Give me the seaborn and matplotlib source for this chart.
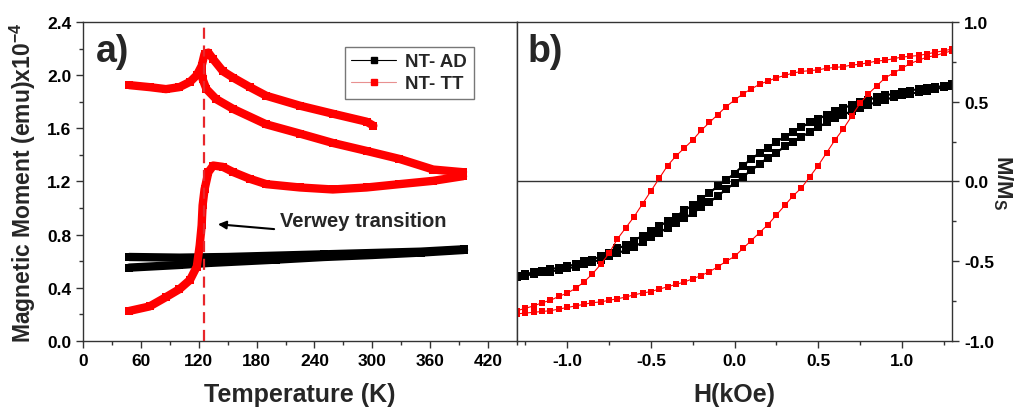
import matplotlib
matplotlib.use("Agg")
import matplotlib.pyplot as plt
import seaborn as sns
import pandas as pd
import numpy as np
from matplotlib.lines import Line2D
from matplotlib.ticker import MultipleLocator, FormatStrFormatter

# ---------------- data: panel a (M vs T) ----------------
ad_upper_T = [48, 100, 150, 200, 250, 300, 350, 395]
ad_upper_M = [0.632, 0.627, 0.632, 0.642, 0.652, 0.662, 0.672, 0.690]
ad_lower_T = [48, 100, 130, 200, 250, 300, 350, 395]
ad_lower_M = [0.552, 0.572, 0.587, 0.612, 0.632, 0.647, 0.665, 0.685]

tt_zfc_T = [48, 69, 86, 100, 111, 118, 121, 123, 124, 126, 130, 135, 145, 156,
            173, 190, 225, 259, 294, 328, 363, 394]
tt_zfc_M = [0.226, 0.26, 0.33, 0.39, 0.46, 0.56, 0.72, 0.87, 1.02, 1.14, 1.27,
            1.32, 1.31, 1.27, 1.22, 1.18, 1.155, 1.14, 1.155, 1.18, 1.205, 1.24]
tt_fc_T = [394, 363, 328, 294, 259, 225, 190, 156, 138, 128, 124, 123]
tt_fc_M = [1.27, 1.29, 1.37, 1.43, 1.49, 1.56, 1.63, 1.745, 1.82, 1.895, 1.97, 2.03]
tt_up_T = [48, 69, 86, 100, 111, 118, 123, 126, 130, 135, 145, 156, 173, 190,
           225, 259, 294, 301]
tt_up_M = [1.925, 1.91, 1.895, 1.91, 1.95, 2.0, 2.07, 2.16, 2.17, 2.12, 2.03,
           1.98, 1.91, 1.845, 1.77, 1.71, 1.65, 1.62]
verwey_T = 125

# ---------------- data: panel b (M/Ms vs H) ----------------
H_desc = [1.30, 1.25, 1.20, 1.15, 1.10, 1.05, 1.00, 0.95, 0.90, 0.85, 0.80, 0.75,
          0.70, 0.65, 0.60, 0.55, 0.50, 0.45, 0.40, 0.35, 0.30, 0.25, 0.20, 0.15,
          0.10, 0.05, 0.00, -0.05, -0.10, -0.15, -0.20, -0.25, -0.30, -0.35,
          -0.40, -0.45, -0.50, -0.55, -0.60, -0.65, -0.70, -0.75, -0.80, -0.85,
          -0.90, -0.95, -1.00, -1.05, -1.10, -1.15, -1.20, -1.25, -1.30]
H_asc = H_desc[::-1]

tt_desc_M = [0.83, 0.82, 0.81, 0.80, 0.79, 0.785, 0.78, 0.77, 0.76, 0.755, 0.745,
             0.735, 0.73, 0.72, 0.715, 0.71, 0.70, 0.695, 0.69, 0.68, 0.665, 0.65,
             0.63, 0.61, 0.58, 0.55, 0.51, 0.47, 0.42, 0.37, 0.32, 0.26, 0.21,
             0.16, 0.10, 0.02, -0.06, -0.14, -0.22, -0.29, -0.36, -0.45, -0.52,
             -0.58, -0.63, -0.67, -0.70, -0.72, -0.745, -0.76, -0.78, -0.795, -0.81]
tt_asc_M = [-0.83, -0.825, -0.82, -0.815, -0.81, -0.80, -0.79, -0.78, -0.77,
            -0.76, -0.755, -0.745, -0.735, -0.725, -0.71, -0.70, -0.69, -0.675,
            -0.66, -0.645, -0.63, -0.61, -0.59, -0.565, -0.535, -0.50, -0.47,
            -0.42, -0.37, -0.32, -0.27, -0.21, -0.15, -0.09, -0.04, 0.03, 0.10,
            0.18, 0.26, 0.33, 0.41, 0.49, 0.55, 0.60, 0.65, 0.68, 0.71, 0.74,
            0.76, 0.78, 0.79, 0.805, 0.82]
ad_desc_M = [0.61, 0.60, 0.59, 0.585, 0.58, 0.57, 0.56, 0.55, 0.54, 0.53, 0.51,
             0.50, 0.48, 0.46, 0.44, 0.42, 0.39, 0.37, 0.34, 0.31, 0.28, 0.25,
             0.21, 0.18, 0.14, 0.10, 0.05, 0.01, -0.03, -0.07, -0.11, -0.15,
             -0.18, -0.22, -0.25, -0.28, -0.31, -0.34, -0.37, -0.40, -0.42,
             -0.45, -0.47, -0.49, -0.50, -0.52, -0.53, -0.54, -0.55, -0.56,
             -0.57, -0.58, -0.59]
ad_asc_M = [-0.60, -0.59, -0.58, -0.57, -0.565, -0.555, -0.545, -0.535, -0.52,
            -0.505, -0.49, -0.47, -0.45, -0.43, -0.41, -0.38, -0.35, -0.32,
            -0.29, -0.26, -0.23, -0.20, -0.16, -0.13, -0.09, -0.05, -0.01, 0.03,
            0.07, 0.11, 0.15, 0.18, 0.22, 0.25, 0.28, 0.31, 0.34, 0.37, 0.40,
            0.42, 0.44, 0.46, 0.48, 0.50, 0.51, 0.53, 0.54, 0.55, 0.56, 0.57,
            0.58, 0.59, 0.60]

labels = ["NT- AD", "NT- TT"]
RED = "#ff0000"
BLACK = "#000000"

sns.set_style("ticks")
plt.rcParams["font.family"] = ["Liberation Sans", "DejaVu Sans"]
plt.rcParams["font.weight"] = "bold"
plt.rcParams["mathtext.fontset"] = "custom"
plt.rcParams["mathtext.rm"] = "Liberation Sans:bold"
plt.rcParams["mathtext.bf"] = "Liberation Sans:bold"
plt.rcParams["mathtext.it"] = "Liberation Sans:bold"
plt.rcParams["mathtext.default"] = "bf"
plt.rcParams["axes.unicode_minus"] = False
plt.rcParams["axes.linewidth"] = 1.0
plt.rcParams["axes.edgecolor"] = "#333333"

fig = plt.figure(figsize=(10.21, 4.10), dpi=100)
ax1 = fig.add_axes([0.0813, 0.1659, 0.4251, 0.778])
ax2 = fig.add_axes([0.5064, 0.1659, 0.4261, 0.778])


def seg(ax, x, y, color, lw, ms):
    df = pd.DataFrame({"x": x, "y": y})
    sns.lineplot(data=df, x="x", y="y", sort=False, estimator=None, ax=ax,
                 color=color, lw=lw, marker="s", markersize=ms,
                 markeredgewidth=0, legend=False)


# panel a
seg(ax1, ad_upper_T, ad_upper_M, BLACK, 6, 5.5)
seg(ax1, ad_lower_T, ad_lower_M, BLACK, 6, 5.5)
seg(ax1, tt_zfc_T, tt_zfc_M, RED, 6, 5.5)
seg(ax1, tt_fc_T, tt_fc_M, RED, 6, 5.5)
seg(ax1, tt_up_T, tt_up_M, RED, 6, 5.5)
ax1.axvline(verwey_T, color="#e8262b", lw=1.6, ls=(0, (5, 3)), zorder=3)

ax1.set_xlim(0, 450)
ax1.set_ylim(0, 2.4)
ax1.xaxis.set_minor_locator(MultipleLocator(30))
ax1.yaxis.set_major_locator(MultipleLocator(0.4))
ax1.yaxis.set_minor_locator(MultipleLocator(0.2))
ax1.set_xticks([0, 60, 120, 180, 240, 300, 360, 420])
ax1.set_xlabel("Temperature (K)", fontsize=18, fontweight="bold", labelpad=10)
ax1.set_ylabel("Magnetic Moment (emu)x10$^{-4}$", fontsize=16.5,
               fontweight="bold", labelpad=6)
ax1.text(0.03, 0.965, "a)", transform=ax1.transAxes, fontsize=27,
         fontweight="bold", va="top", ha="left")
ax1.annotate("", xy=(137, 0.88), xytext=(201, 0.84),
             arrowprops=dict(arrowstyle="-|>", color="black", lw=1.5,
                             mutation_scale=12))
ax1.text(204, 0.905, "Verwey transition", fontsize=14.5, fontweight="bold",
         va="center", ha="left")

handles = [Line2D([], [], color=BLACK, lw=0.8, marker="s", markersize=5),
           Line2D([], [], color="#e89090", lw=0.8, marker="s", markersize=5,
                  markerfacecolor=RED, markeredgecolor=RED)]
leg = ax1.legend(handles, labels, loc="upper right",
                 bbox_to_anchor=(0.922, 0.952), fontsize=13.5, frameon=True,
                 fancybox=False, edgecolor="#555555", handlelength=2.4,
                 borderpad=0.35, labelspacing=0.25, handletextpad=0.5)
leg.get_frame().set_linewidth(1.0)
for t in leg.get_texts():
    t.set_fontweight("bold")

# panel b
seg(ax2, H_desc, ad_desc_M, BLACK, 1.5, 5.5)
seg(ax2, H_asc, ad_asc_M, BLACK, 1.5, 5.5)
seg(ax2, H_desc, tt_desc_M, RED, 0.8, 4)
seg(ax2, H_asc, tt_asc_M, RED, 0.8, 4)
ax2.axhline(0, color="#333333", lw=1.0, zorder=1)

ax2.set_xlim(-1.3, 1.3)
ax2.set_ylim(-1.0, 1.0)
ax2.xaxis.set_minor_locator(MultipleLocator(0.25))
ax2.set_xticks([-1.0, -0.5, 0.0, 0.5, 1.0])
ax2.yaxis.set_major_locator(MultipleLocator(0.5))
ax2.yaxis.set_minor_locator(MultipleLocator(0.25))
ax2.yaxis.tick_right()
ax2.yaxis.set_label_position("right")
ax2.set_xlabel("H(kOe)", fontsize=18, fontweight="bold", labelpad=10)
ax2.set_ylabel("M/M$_S$", fontsize=16, fontweight="bold", rotation=270,
               labelpad=15)
ax2.text(0.025, 0.965, "b)", transform=ax2.transAxes, fontsize=27,
         fontweight="bold", va="top", ha="left")

ax1.yaxis.set_major_formatter(FormatStrFormatter("%.1f"))
ax2.xaxis.set_major_formatter(FormatStrFormatter("%.1f"))
ax2.yaxis.set_major_formatter(FormatStrFormatter("%.1f"))

for ax in (ax1, ax2):
    ax.tick_params(which="major", direction="out", length=5, width=1.0,
                   labelsize=12.5, colors="#333333", labelcolor="black")
    ax.tick_params(which="minor", direction="out", length=3, width=1.0,
                   colors="#333333")
    for lab in ax.get_xticklabels() + ax.get_yticklabels():
        lab.set_fontweight("bold")
    for s in ax.spines.values():
        s.set_visible(True)
        s.set_color("#333333")

fig.savefig("out.png", dpi=100)
